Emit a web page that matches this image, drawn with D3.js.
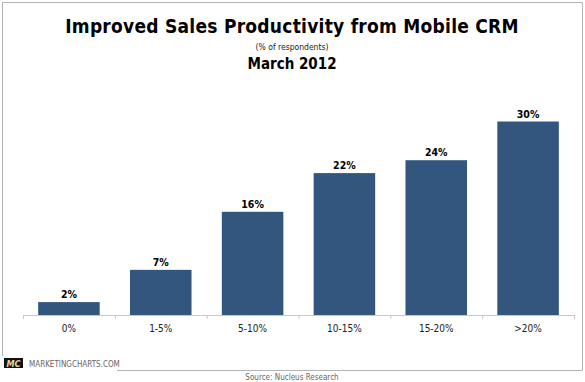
<!DOCTYPE html>
<html><head><meta charset="utf-8">
<script src="https://cdn.jsdelivr.net/npm/d3@7"></script>
<style>
html,body{margin:0;padding:0;background:#fff;}
svg{display:block;}
text{font-family:"DejaVu Sans Condensed","DejaVu Sans",sans-serif;}
</style></head>
<body>
<svg id="chart" width="585" height="382"></svg>
<script>
const categories = ["0%","1-5%","5-10%","10-15%","15-20%",">20%"];
const values = [2,7,16,22,24,30];
const valueLabels = ["2%","7%","16%","22%","24%","30%"];
const title = "Improved Sales Productivity from Mobile CRM";
const subtitle = "(% of respondents)";
const dateLabel = "March 2012";
const sourceText = "Source: Nucleus Research";
const brandText = "MARKETINGCHARTS.COM";

const svg = d3.select("#chart");

// frame
const frame = svg.append("g").attr("stroke","#b4b4b4").attr("stroke-width",1).attr("fill","none");
frame.append("path").attr("d","M2.5,356 V2.5 H582.5 V370.5 H117");

// title block
svg.append("text").attr("x",292).attr("y",33).attr("text-anchor","middle")
  .attr("font-size",19).attr("letter-spacing",0.25).attr("font-weight","bold").attr("fill","#000").text(title);
svg.append("text").attr("x",292).attr("y",50).attr("text-anchor","middle")
  .attr("font-size",8.5).attr("fill","#222").text(subtitle);
svg.append("text").attr("x",292).attr("y",68.5).attr("text-anchor","middle")
  .attr("font-size",15).attr("font-weight","bold").attr("fill","#000").text(dateLabel);

// scales
const x = d3.scaleBand().domain(categories).range([23,574]).paddingInner(0.33).paddingOuter(0.165);
const y = d3.scaleLinear().domain([0,30]).range([315,121.5]);

// axis
const axis = d3.axisBottom(x).tickSize(0).tickPadding(10);
const ag = svg.append("g").attr("transform","translate(0,315)").call(axis);
ag.select(".domain").attr("stroke","#c8c8c8").attr("d","M23,0.5H574");
ag.selectAll(".tick text").attr("font-size",10).attr("fill","#222")
  .attr("font-family",'"DejaVu Sans Condensed","DejaVu Sans",sans-serif');
// tick marks at band boundaries
const bounds = d3.range(categories.length+1).map(i => 23 + i*(551/categories.length));
svg.append("g").selectAll("line").data(bounds).join("line")
  .attr("x1",d=>d+0.5).attr("x2",d=>d+0.5).attr("y1",315).attr("y2",319)
  .attr("stroke","#c8c8c8");

// bars
svg.append("g").selectAll("rect").data(values).join("rect")
  .attr("x",(d,i)=>x(categories[i]))
  .attr("width",x.bandwidth())
  .attr("y",d=>y(d))
  .attr("height",d=>y(0)-y(d))
  .attr("fill","#33567f");

// value labels
svg.append("g").selectAll("text").data(values).join("text")
  .attr("x",(d,i)=>x(categories[i])+x.bandwidth()/2)
  .attr("y",d=>y(d)-4)
  .attr("text-anchor","middle")
  .attr("font-size",10.5).attr("font-weight","bold").attr("fill","#000")
  .text((d,i)=>valueLabels[i]);

// brand logo
svg.append("rect").attr("x",4).attr("y",358).attr("width",19).attr("height",10).attr("fill","#111");
svg.append("text").attr("x",13.5).attr("y",366.5).attr("text-anchor","middle")
  .attr("font-size",9).attr("font-weight","bold").attr("font-style","italic")
  .attr("fill","#e6dc9a").text("MC");
svg.append("text").attr("x",29).attr("y",366.5)
  .attr("font-size",8).attr("fill","#666").text(brandText);

// source
svg.append("text").attr("x",292).attr("y",380).attr("text-anchor","middle")
  .attr("font-size",8).attr("fill","#666").text(sourceText);
</script>
</body></html>
